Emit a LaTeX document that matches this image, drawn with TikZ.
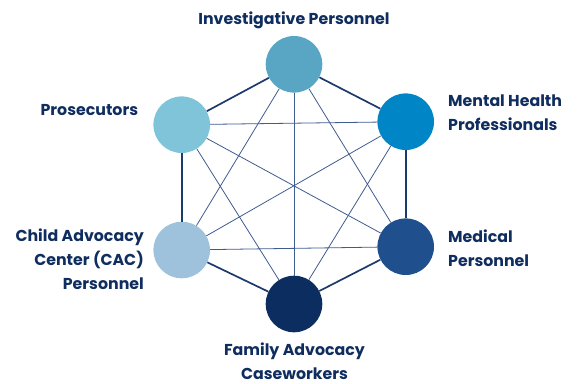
\documentclass[tikz,border=0pt]{standalone}
\usepackage{fontspec}
\setmainfont{Poppins}
\definecolor{navy}{HTML}{0F2D5E}
\definecolor{linec}{HTML}{1D3A6C}
\definecolor{spokec}{HTML}{3F5C8E}
\definecolor{cinv}{HTML}{58A6C3}
\definecolor{cmhp}{HTML}{0086C6}
\definecolor{cmed}{HTML}{1F4F8C}
\definecolor{cfam}{HTML}{0B2D60}
\definecolor{ccac}{HTML}{9FC2DC}
\definecolor{cpro}{HTML}{80C4DA}
\begin{document}
\begin{tikzpicture}[x=1pt,y=-1pt]
    \tikzstyle{member}=[circle,minimum size=56.6pt,inner sep=0pt]
    \tikzstyle{roletext}=[text=navy,font=\bfseries\fontsize{15.8}{24}\selectfont,inner sep=0pt]
    \tikzstyle{ring}=[draw=linec,line width=1.7pt]
    \tikzstyle{spoke}=[draw=spokec,line width=0.8pt]

    \useasboundingbox (0,0) rectangle (580,383);

    \node[member,fill=cinv] at (294,64.3) (inv) {};
    \node[member,fill=cmhp] at (405.7,121.7) (mhp) {};
    \node[member,fill=cmed] at (405.7,246.7) (med) {};
    \node[member,fill=cfam] at (294,304) (fam) {};
    \node[member,fill=ccac] at (181.7,250) (cac) {};
    \node[member,fill=cpro] at (181.7,124.7) (pro) {};

    % outer ring
    \draw[ring] (inv) -- (mhp);
    \draw[ring] (mhp) -- (med);
    \draw[ring] (med) -- (fam);
    \draw[ring] (fam) -- (cac);
    \draw[ring] (cac) -- (pro);
    \draw[ring] (pro) -- (inv);

    % everyone talks to everyone
    \draw[spoke] (inv) -- (med);
    \draw[spoke] (inv) -- (fam);
    \draw[spoke] (inv) -- (cac);
    \draw[spoke] (mhp) -- (fam);
    \draw[spoke] (mhp) -- (cac);
    \draw[spoke] (mhp) -- (pro);
    \draw[spoke] (med) -- (cac);
    \draw[spoke] (med) -- (pro);
    \draw[spoke] (fam) -- (pro);

    \node[roletext,anchor=base] at (294,24.3) (invlab) {Investigative Personnel};
    \node[roletext,anchor=base west,align=left] at (448,130) (mhplab) {Mental Health\\Professionals};
    \node[roletext,anchor=base west,align=left] at (448,266.7) (medlab) {Medical\\Personnel};
    \node[roletext,anchor=base,align=center] at (294.5,379.5) (famlab) {Family Advocacy\\Caseworkers};
    \node[roletext,anchor=base east,align=right] at (144,289.3) (caclab) {Child Advocacy\\Center (CAC)\\Personnel};
    \node[roletext,anchor=base east] at (138.3,115.7) (prolab) {Prosecutors};
\end{tikzpicture}
\end{document}
